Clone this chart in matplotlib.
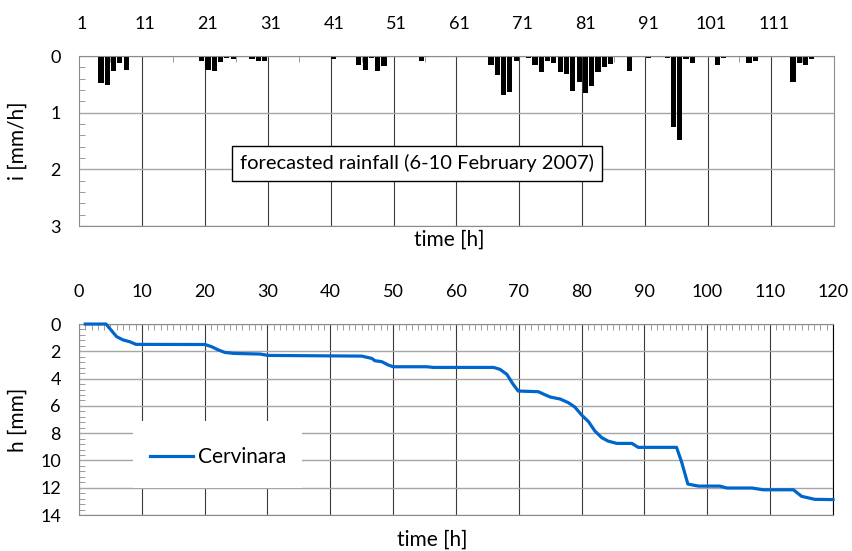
import matplotlib.pyplot as plt
import numpy as np
from matplotlib.patches import Rectangle
from matplotlib.ticker import MultipleLocator, FixedLocator

plt.rcParams['font.family'] = ['Lato', 'DejaVu Sans']

# hourly forecasted rainfall intensity i [mm/h], hours 1..120
hours = np.arange(1, 121)
rain_mm_h = [
    0, 0, 0, 0.47, 0.51, 0.26, 0.12, 0.25, 0, 0,
    0, 0, 0, 0, 0, 0, 0, 0, 0, 0.08,
    0.25, 0.27, 0.11, 0.04, 0.06, 0, 0, 0.06, 0.09, 0.09,
    0, 0, 0, 0, 0, 0, 0, 0, 0, 0,
    0.06, 0, 0, 0, 0.15, 0.24, 0.04, 0.27, 0.18, 0,
    0, 0, 0, 0, 0.08, 0, 0, 0, 0, 0,
    0, 0, 0, 0, 0, 0.15, 0.33, 0.68, 0.64, 0.08,
    0, 0.04, 0.16, 0.28, 0.08, 0.13, 0.28, 0.31, 0.61, 0.45,
    0.66, 0.52, 0.28, 0.19, 0.14, 0, 0, 0.26, 0, 0,
    0.03, 0, 0, 0.04, 1.25, 1.48, 0.06, 0.12, 0, 0,
    0, 0.15, 0.04, 0, 0, 0, 0.12, 0.08, 0, 0,
    0, 0, 0, 0.46, 0.12, 0.16, 0.05, 0, 0, 0,
]
rain_tick_labels = [1, 11, 21, 31, 41, 51, 61, 71, 81, 91, 101, 111]

# cumulated rainfall h [mm] at Cervinara
t_h = [1, 4.3, 6.0, 7.05, 8.1, 9.07, 20.05, 21.1, 22.2, 23.2, 24.6, 28.8, 30.1,
       45, 46.6, 47.1, 48.2, 49.2, 50.0, 55.3, 56.4, 66.0, 67.0, 68.1, 69.1,
       69.9, 73.1, 73.9, 75.0, 76.6, 77.9, 78.9, 80.0, 81.1, 82.1, 83.2, 84.2,
       85.6, 88.0, 89.0, 95.1, 95.9, 96.9, 98.6, 102.0, 103.1, 107.1, 108.9,
       113.7, 115.0, 117.1, 120]
h_mm = [0, 0, 0.93, 1.17, 1.3, 1.49, 1.5, 1.66, 1.9, 2.08, 2.15, 2.2, 2.3,
        2.35, 2.52, 2.69, 2.76, 3.0, 3.13, 3.13, 3.18, 3.18, 3.32, 3.69, 4.42,
        4.91, 4.96, 5.13, 5.35, 5.5, 5.77, 6.08, 6.67, 7.16, 7.84, 8.33, 8.58,
        8.75, 8.75, 9.04, 9.04, 10.1, 11.73, 11.88, 11.88, 12.02, 12.02, 12.15,
        12.15, 12.63, 12.85, 12.87]

spine_col = '#8c8c8c'
hgrid_col = '#a6a6a6'
vgrid_col = '#3a3a3a'
blue = '#0066cc'

fig = plt.figure(figsize=(8.52, 5.51), dpi=100)
ax1 = fig.add_axes([0.0927, 0.5898, 0.886, 0.3085])
ax2 = fig.add_axes([0.0927, 0.0653, 0.885, 0.3466])

# ---- top: rainfall bars ----
ax1.bar(hours, rain_mm_h, width=0.82, color='black', zorder=2)
ax1.set_xlim(0.5, 120.5)
ax1.set_ylim(3, 0)
ax1.xaxis.tick_top()
ax1.set_xticks(rain_tick_labels)
ax1.xaxis.set_minor_locator(FixedLocator(np.arange(5.5, 120, 10)))
ax1.yaxis.set_major_locator(MultipleLocator(1))
ax1.yaxis.set_minor_locator(MultipleLocator(0.2))
for b in np.arange(10.5, 120, 10):
    ax1.axvline(b, color=vgrid_col, lw=0.8, zorder=0.5)
ax1.yaxis.grid(True, color=hgrid_col, lw=1)
ax1.set_axisbelow(True)
ax1.tick_params(axis='x', which='major', length=0, pad=17.6, labelsize=13)
ax1.tick_params(axis='x', which='minor', direction='in', length=4, color=spine_col)
ax1.tick_params(axis='y', which='major', length=0, pad=13, labelsize=13)
ax1.tick_params(axis='y', which='minor', direction='in', length=4, color=spine_col)
for s in ax1.spines.values():
    s.set_color(spine_col)
ax1.set_xlabel('time [h]', fontsize=15)
ax1.xaxis.set_label_position('bottom')
ax1.xaxis.set_label_coords(0.491, -0.0235)
ax1.set_ylabel('i [mm/h]', fontsize=15)
ax1.yaxis.set_label_coords(-0.0675, 0.5)
ax1.text(0.448, 0.368, 'forecasted rainfall (6-10 February 2007)', transform=ax1.transAxes,
         ha='center', va='center', fontsize=14.5, zorder=4,
         bbox=dict(boxstyle='square,pad=0.4', facecolor='white', edgecolor='black', lw=1))

# ---- bottom: cumulated rainfall ----
ax2.plot(t_h, h_mm, color=blue, lw=2.3, zorder=3, clip_on=False, label='Cervinara')
ax2.set_xlim(0, 120)
ax2.set_ylim(14, 0)
ax2.xaxis.tick_top()
ax2.xaxis.set_major_locator(MultipleLocator(10))
ax2.xaxis.set_minor_locator(MultipleLocator(1))
ax2.yaxis.set_major_locator(MultipleLocator(2))
ax2.yaxis.set_minor_locator(MultipleLocator(0.4))
ax2.xaxis.grid(True, color=vgrid_col, lw=0.8)
ax2.yaxis.grid(True, color=hgrid_col, lw=1)
ax2.set_axisbelow(True)
ax2.tick_params(axis='x', which='major', length=0, pad=17.6, labelsize=13)
ax2.tick_params(axis='x', which='minor', direction='in', length=4, color=spine_col)
ax2.tick_params(axis='y', which='major', length=0, pad=13, labelsize=13)
ax2.tick_params(axis='y', which='minor', direction='in', length=4, color=spine_col)
for s in ax2.spines.values():
    s.set_color(spine_col)
ax2.spines['right'].set_color('black')
ax2.set_xlabel('time [h]', fontsize=15)
ax2.xaxis.set_label_position('bottom')
ax2.xaxis.set_label_coords(0.468, -0.0785)
ax2.set_ylabel('h [mm]', fontsize=15)
ax2.yaxis.set_label_coords(-0.0676, 0.5)

ax2.add_patch(Rectangle((0.072, 0.141), 0.224, 0.349, transform=ax2.transAxes,
                        facecolor='white', edgecolor='none', zorder=2))
ax2.legend(loc='center', bbox_to_anchor=(0.184, 0.304), frameon=False, fontsize=15,
           handlelength=2.1, handletextpad=0.2)

fig.savefig('out.png', dpi=100)
